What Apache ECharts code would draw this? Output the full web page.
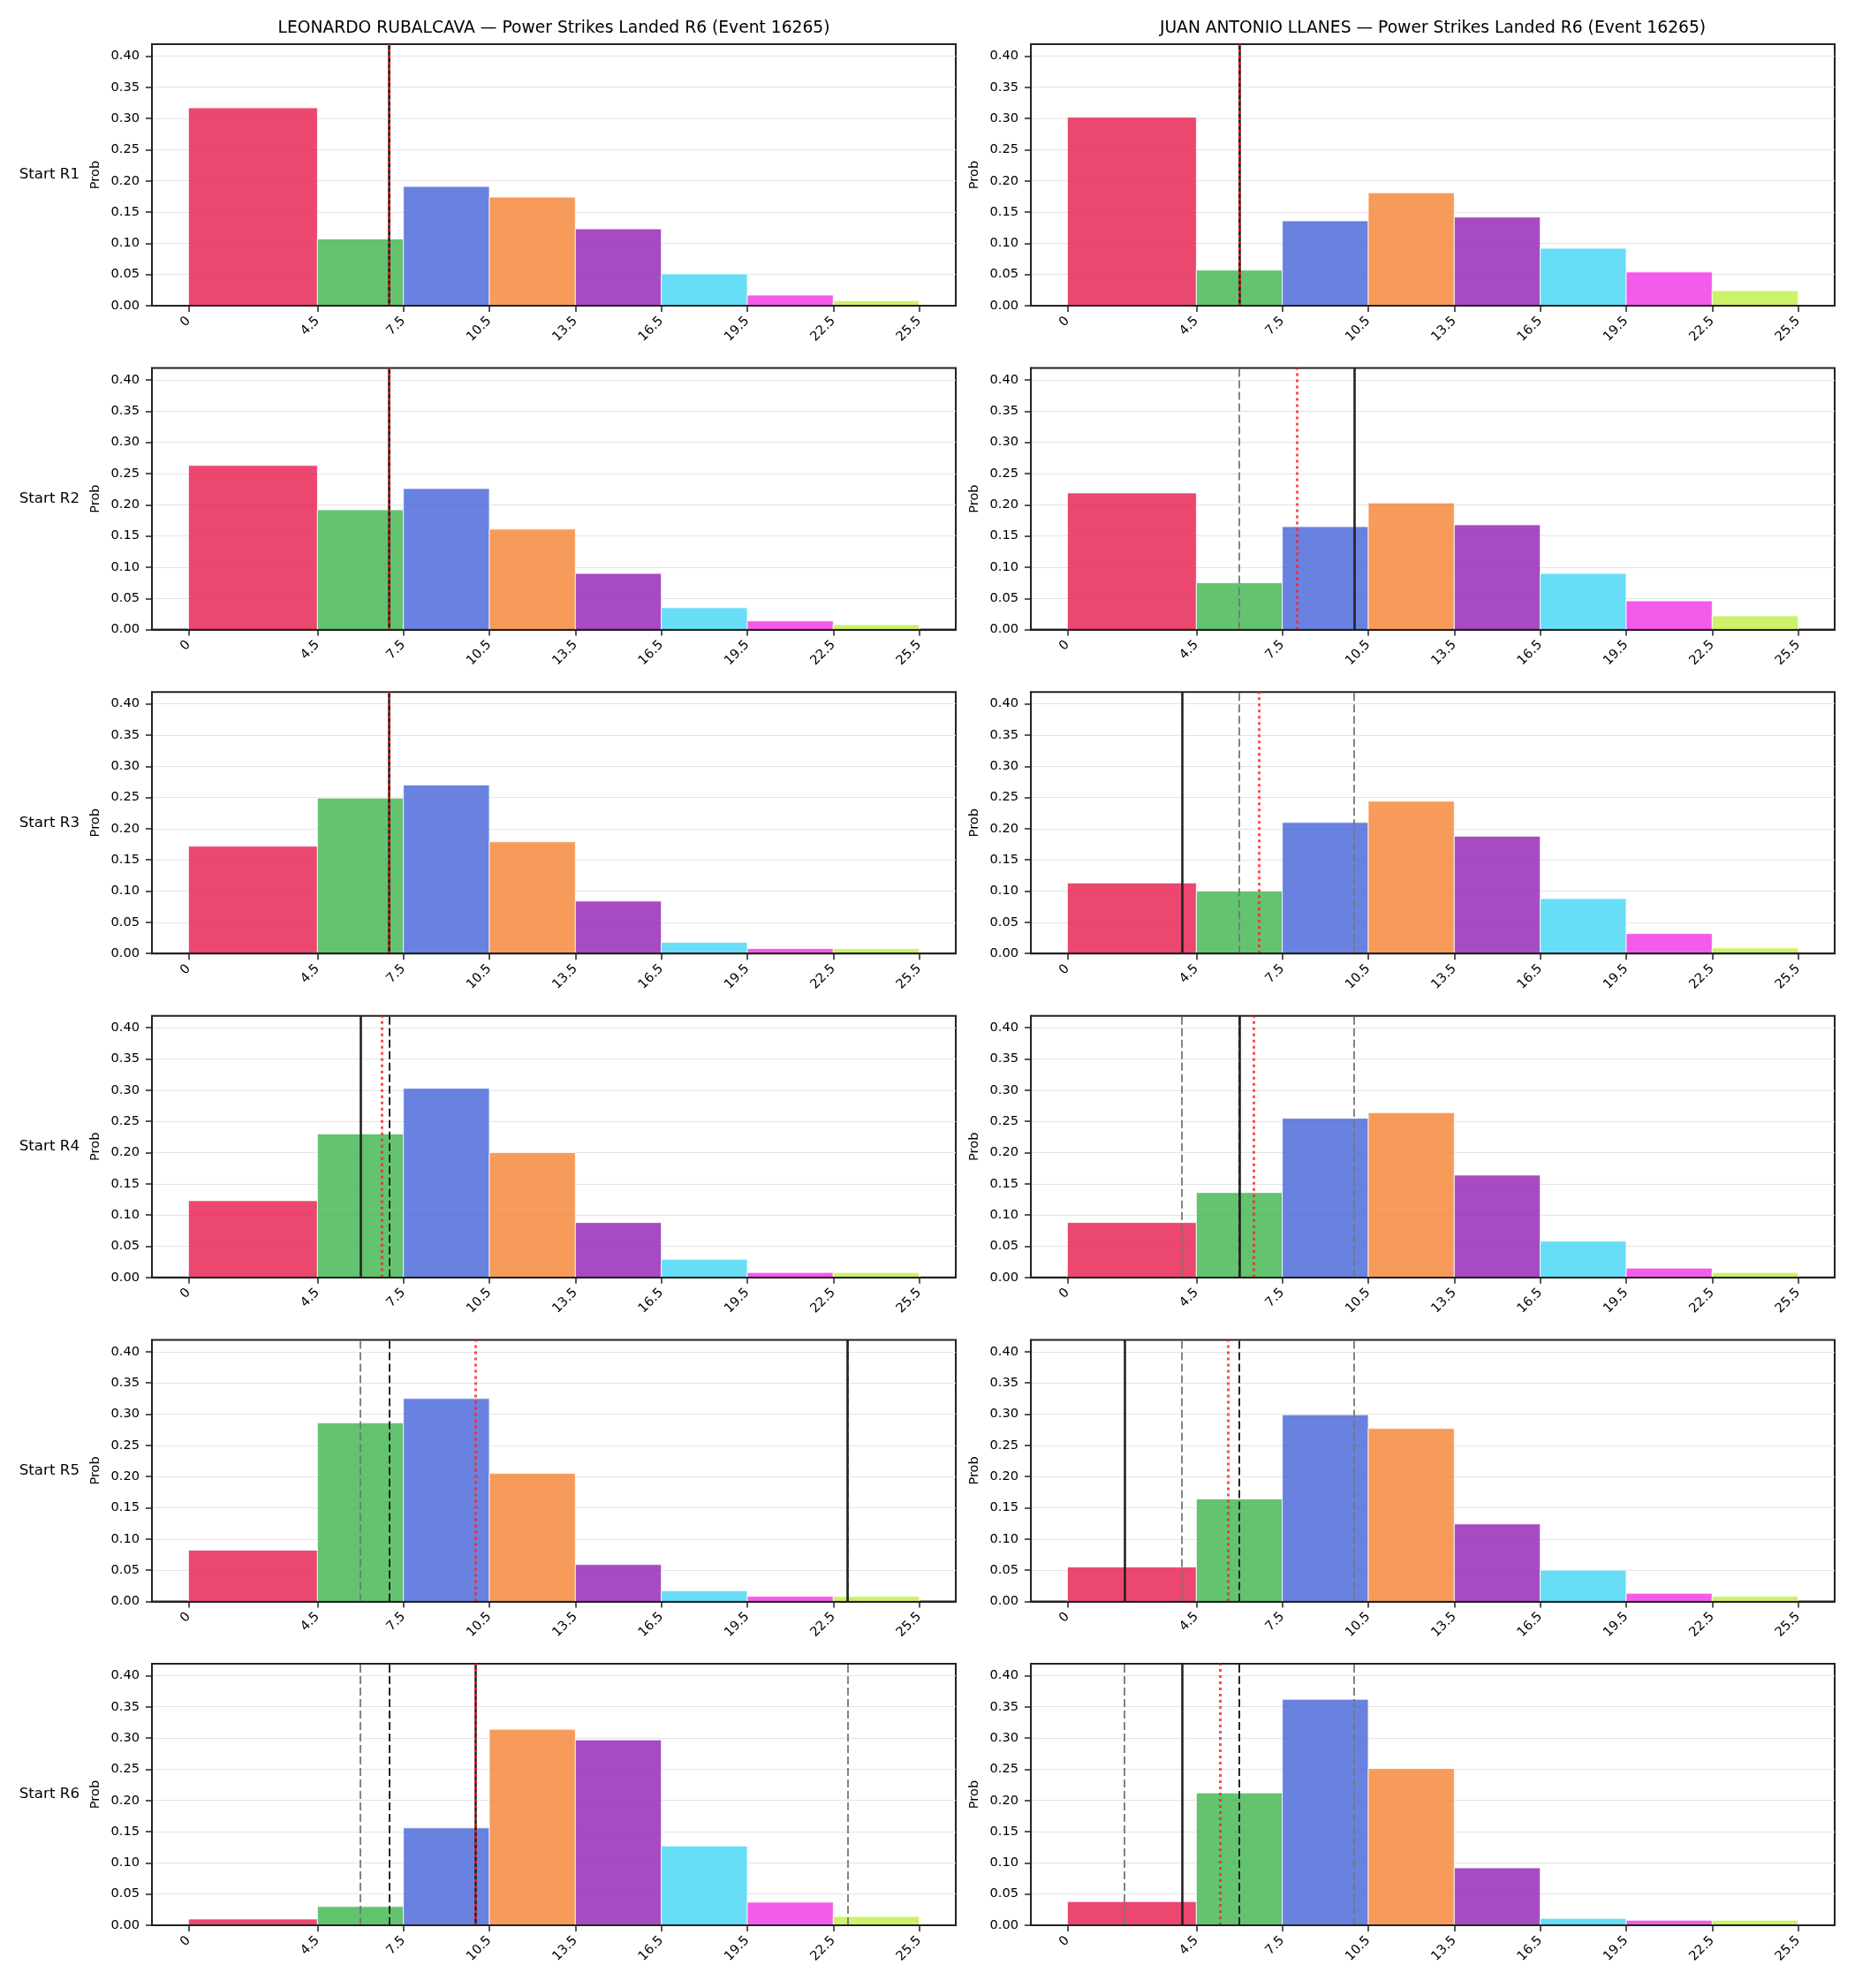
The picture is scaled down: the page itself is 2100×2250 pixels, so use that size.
<!DOCTYPE html>
<html>
<head>
<meta charset="utf-8">
<title>Power Strikes Landed R6 (Event 16265)</title>
<script src="https://cdn.jsdelivr.net/npm/echarts@6/dist/echarts.min.js"></script>
<style>
  html, body { margin: 0; padding: 0; background: #fff; }
  #chart { width: 2100px; height: 2250px; }
</style>
</head>
<body>
<div id="chart"></div>
<script>
// 直方图分箱 (power strikes landed)
const binEdges = [0, 4.5, 7.5, 10.5, 13.5, 16.5, 19.5, 22.5, 25.5]
const xTicks = [0, 4.5, 7.5, 10.5, 13.5, 16.5, 19.5, 22.5, 25.5]
const yTicks = [0, 0.05, 0.10, 0.15, 0.20, 0.25, 0.30, 0.35, 0.40]
const rounds = ['Start R1', 'Start R2', 'Start R3', 'Start R4', 'Start R5', 'Start R6']
const fighters = ['LEONARDO RUBALCAVA', 'JUAN ANTONIO LLANES']

// 每回合各分箱概率
const rubalcavaProbs = [
  [0.317, 0.107, 0.191, 0.174, 0.123, 0.051, 0.017, 0.008],
  [0.263, 0.192, 0.226, 0.161, 0.090, 0.035, 0.014, 0.008],
  [0.172, 0.249, 0.270, 0.179, 0.084, 0.018, 0.008, 0.008],
  [0.123, 0.230, 0.303, 0.200, 0.088, 0.029, 0.008, 0.008],
  [0.082, 0.286, 0.325, 0.205, 0.059, 0.017, 0.008, 0.008],
  [0.010, 0.030, 0.156, 0.314, 0.297, 0.127, 0.037, 0.014]
]
const llanesProbs = [
  [0.302, 0.057, 0.136, 0.181, 0.142, 0.092, 0.054, 0.024],
  [0.219, 0.075, 0.165, 0.203, 0.168, 0.090, 0.046, 0.022],
  [0.113, 0.100, 0.210, 0.244, 0.188, 0.088, 0.032, 0.009],
  [0.088, 0.136, 0.255, 0.264, 0.164, 0.058, 0.015, 0.008],
  [0.055, 0.164, 0.299, 0.277, 0.124, 0.050, 0.013, 0.008],
  [0.038, 0.212, 0.362, 0.251, 0.092, 0.011, 0.008, 0.008]
]

// 竖线标记: 实际值 / 中位数 / 均值 / 分位区间
const rubalcavaActual = [7, 7, 7, 6, 23, 10]
const rubalcavaMedian = [7, 7, 7, 7, 7, 7]
const rubalcavaMean = [7, 7, 7, 6.75, 10, 10]
const rubalcavaBand = [[], [], [], [], [6, 23], [6, 23]]

const llanesActual = [6, 10, 4, 6, 2, 4]
const llanesMedian = [6, null, null, 6, 6, 6]
const llanesMean = [6, 8, 6.68, 6.5, 5.6, 5.33]
const llanesBand = [[], [6], [6, 10], [4, 10], [4, 10], [2, 10]]

const binColors = ['#e6194b', '#3cb44b', '#4363d8', '#f58231', '#911eb4', '#42d4f4', '#f032e6', '#bfef45']

const FONT = 'DejaVu Sans'
const colLeft = [172, 1167]
const plotWidth = 910
const plotHeight = 296
const rowTop = i => 50 + i * 366.6

const probsByFighter = [rubalcavaProbs, llanesProbs]
const markers = [
  { actual: rubalcavaActual, median: rubalcavaMedian, mean: rubalcavaMean, band: rubalcavaBand },
  { actual: llanesActual, median: llanesMedian, mean: llanesMean, band: llanesBand }
]

const grids = []
const xAxes = []
const yAxes = []
const series = []
const titles = []

// 列标题
fighters.forEach((name, c) => {
  titles.push({
    text: `${name} — Power Strikes Landed R6 (Event 16265)`,
    left: colLeft[c] + plotWidth / 2,
    top: 32,
    textAlign: 'center',
    textVerticalAlign: 'middle',
    padding: 0,
    textStyle: { fontFamily: FONT, fontSize: 18.7, fontWeight: 'normal', color: '#000' }
  })
})

// 行标签
rounds.forEach((label, r) => {
  titles.push({
    text: label,
    left: 90,
    top: rowTop(r) + plotHeight / 2,
    textAlign: 'right',
    textVerticalAlign: 'middle',
    padding: 0,
    textStyle: { fontFamily: FONT, fontSize: 16.7, fontWeight: 'normal', color: '#000' }
  })
})

const lineStyles = {
  band: { color: '#777', width: 1.8, type: [9, 4] },
  median: { color: '#111', width: 1.8, type: [9, 4] },
  actual: { color: '#222', width: 2.6, type: 'solid' },
  mean: { color: 'rgba(255, 30, 30, 0.8)', width: 3, type: [3, 4] }
}

const axisColor = '#222'

for (let r = 0; r < rounds.length; r++) {
  for (let c = 0; c < 2; c++) {
    const idx = grids.length
    const probs = probsByFighter[c][r]
    const m = markers[c]

    grids.push({
      left: colLeft[c],
      top: rowTop(r),
      width: plotWidth,
      height: plotHeight,
      show: true,
      borderColor: axisColor,
      borderWidth: 2,
      backgroundColor: 'transparent'
    })

    xAxes.push({
      gridIndex: idx,
      type: 'value',
      min: -1.275,
      max: 26.775,
      z: 10,
      axisLine: { show: true, onZero: false, lineStyle: { color: axisColor, width: 2 } },
      axisTick: { show: true, length: 7, customValues: xTicks, lineStyle: { color: axisColor, width: 1.5 } },
      axisLabel: {
        customValues: xTicks,
        rotate: 45,
        margin: 15,
        formatter: v => String(v),
        fontFamily: FONT,
        fontSize: 14.6,
        color: '#000'
      },
      splitLine: { show: false }
    })

    yAxes.push({
      gridIndex: idx,
      type: 'value',
      min: 0,
      max: 0.419,
      interval: 0.05,
      name: 'Prob',
      nameLocation: 'middle',
      nameGap: 56,
      nameRotate: 90,
      nameTextStyle: { fontFamily: FONT, fontSize: 14.6, color: '#000' },
      axisLine: { show: true, onZero: false, lineStyle: { color: axisColor, width: 2 } },
      axisTick: { show: true, length: 7, customValues: yTicks, lineStyle: { color: axisColor, width: 1.5 } },
      axisLabel: {
        customValues: yTicks,
        margin: 14,
        formatter: v => v.toFixed(2),
        fontFamily: FONT,
        fontSize: 14.6,
        color: '#000'
      },
      splitLine: { show: true, lineStyle: { color: '#e4e4e4', width: 1.2 } }
    })

    // 竖线: 区间 -> 中位数 -> 实际 -> 均值
    const lines = []
    m.band[r].forEach(v => lines.push({ xAxis: v, lineStyle: lineStyles.band }))
    if (m.median[r] != null) lines.push({ xAxis: m.median[r], lineStyle: lineStyles.median })
    lines.push({ xAxis: m.actual[r], lineStyle: lineStyles.actual })
    lines.push({ xAxis: m.mean[r], lineStyle: lineStyles.mean })

    series.push({
      type: 'custom',
      xAxisIndex: idx,
      yAxisIndex: idx,
      encode: { x: [0, 1], y: 2 },
      data: probs.map((p, i) => [binEdges[i], binEdges[i + 1], p]),
      renderItem: (params, api) => {
        const topLeft = api.coord([api.value(0), api.value(2)])
        const bottomRight = api.coord([api.value(1), 0])
        return {
          type: 'rect',
          shape: {
            x: topLeft[0],
            y: topLeft[1],
            width: bottomRight[0] - topLeft[0],
            height: bottomRight[1] - topLeft[1]
          },
          style: {
            fill: binColors[params.dataIndex],
            opacity: 0.8,
            stroke: '#fff',
            lineWidth: 1
          }
        }
      },
      markLine: {
        silent: true,
        symbol: ['none', 'none'],
        label: { show: false },
        animation: false,
        data: lines
      }
    })
  }
}

const chart = echarts.init(document.getElementById('chart'))
chart.setOption({
  backgroundColor: '#fff',
  animation: false,
  title: titles,
  grid: grids,
  xAxis: xAxes,
  yAxis: yAxes,
  series: series
})
</script>
</body>
</html>
